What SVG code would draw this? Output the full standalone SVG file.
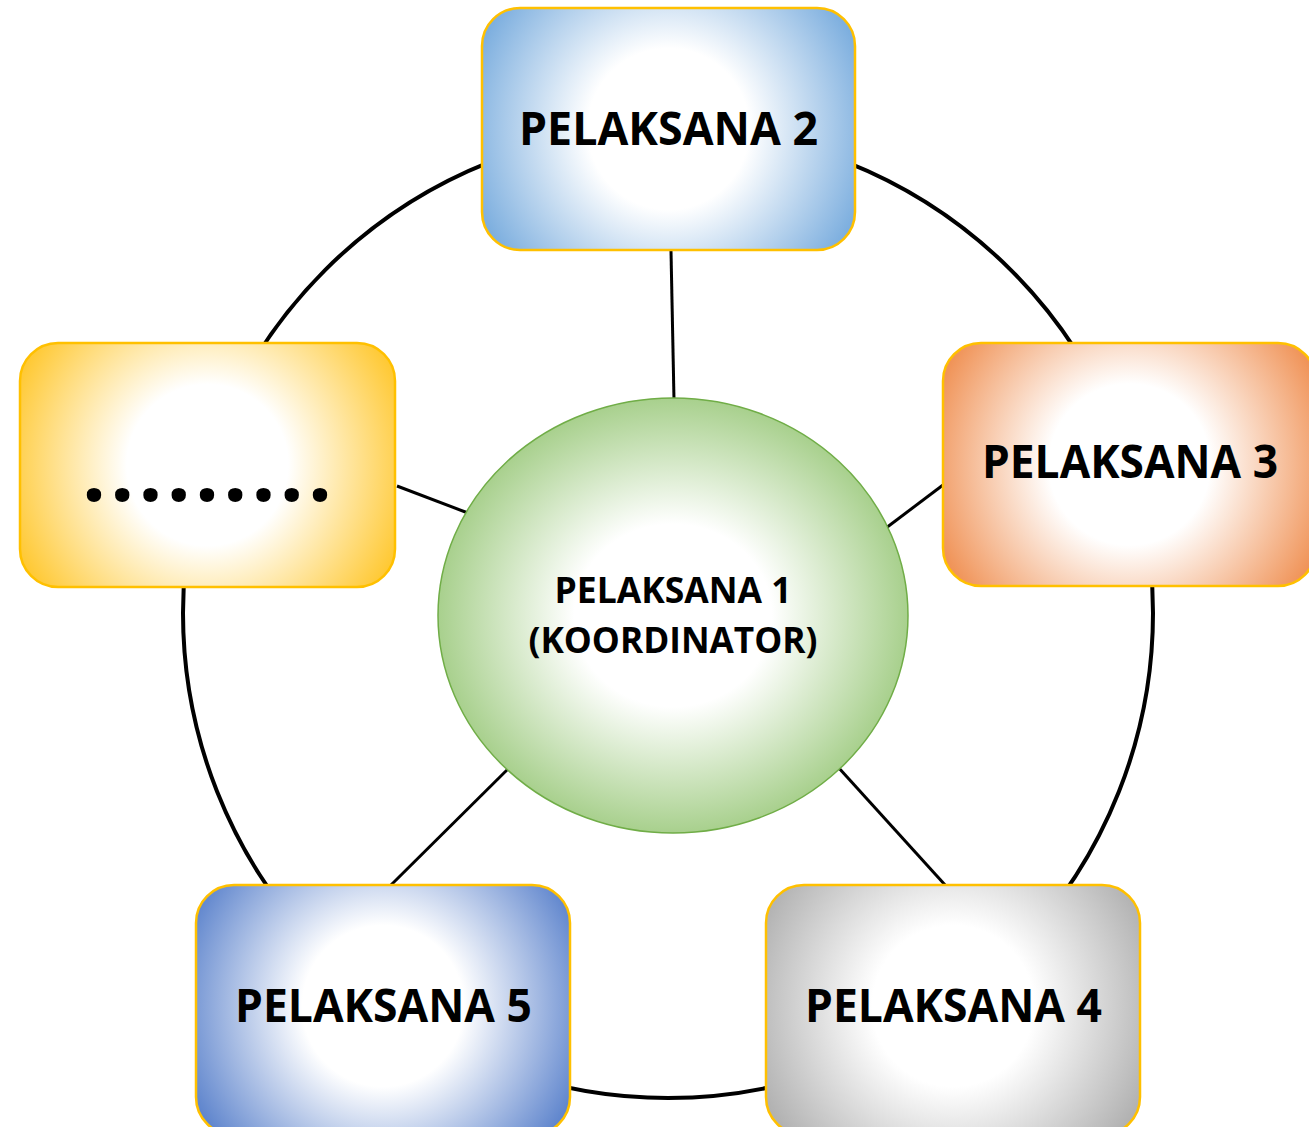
<svg xmlns="http://www.w3.org/2000/svg" width="1309" height="1127" viewBox="0 0 1309 1127">
<style>
.box{stroke:#FFC000;stroke-width:2.5}
.lbl{font-family:"Open Sans","Liberation Sans",sans-serif;font-weight:bold;font-size:46px;fill:#000;text-anchor:middle}
.ctr{font-family:"Open Sans","Liberation Sans",sans-serif;font-weight:bold;font-size:35px;fill:#000;text-anchor:middle}
.ring{fill:none;stroke:#000;stroke-width:4}
.spoke{stroke:#000;stroke-width:3}
</style>
<defs>
<radialGradient id="gBlue" gradientUnits="userSpaceOnUse" cx="668.5" cy="129" r="224"><stop offset="0" stop-color="#fff"/><stop offset="0.36" stop-color="#fff"/><stop offset="1" stop-color="#6AA3DA"/></radialGradient>
<radialGradient id="gOrange" gradientUnits="userSpaceOnUse" cx="1129.5" cy="464.5" r="224"><stop offset="0" stop-color="#fff"/><stop offset="0.36" stop-color="#fff"/><stop offset="1" stop-color="#EE8440"/></radialGradient>
<radialGradient id="gYellow" gradientUnits="userSpaceOnUse" cx="207.5" cy="465" r="224"><stop offset="0" stop-color="#fff"/><stop offset="0.36" stop-color="#fff"/><stop offset="1" stop-color="#FFC21A"/></radialGradient>
<radialGradient id="gDark" gradientUnits="userSpaceOnUse" cx="383" cy="1006" r="224"><stop offset="0" stop-color="#fff"/><stop offset="0.36" stop-color="#fff"/><stop offset="1" stop-color="#4F79C8"/></radialGradient>
<radialGradient id="gGray" gradientUnits="userSpaceOnUse" cx="953" cy="1006" r="224"><stop offset="0" stop-color="#fff"/><stop offset="0.36" stop-color="#fff"/><stop offset="1" stop-color="#A9A9A9"/></radialGradient>
<radialGradient id="gGreen" cx="0.5" cy="0.5" r="0.5"><stop offset="0" stop-color="#fff"/><stop offset="0.42" stop-color="#fff"/><stop offset="1" stop-color="#A8D08D"/></radialGradient>
</defs>
<g id="connectors">
<circle class="ring" cx="668" cy="613" r="485"/>
<line class="spoke" x1="671" y1="251" x2="674" y2="400"/>
<line class="spoke" x1="397" y1="486" x2="468" y2="513"/>
<line class="spoke" x1="943" y1="485" x2="886" y2="528"/>
<line class="spoke" x1="390" y1="886" x2="510" y2="767"/>
<line class="spoke" x1="946" y1="886" x2="838" y2="767"/>
</g>
<g id="node-koordinator">
<ellipse cx="673" cy="615.5" rx="235" ry="217.5" fill="url(#gGreen)" stroke="#70AD47" stroke-width="1.5"/>
<text class="ctr" x="673" y="603" textLength="237" lengthAdjust="spacingAndGlyphs">PELAKSANA 1</text>
<text class="ctr" x="673" y="653" textLength="289" lengthAdjust="spacingAndGlyphs">(KOORDINATOR)</text>
</g>
<g id="node-pelaksana2">
<rect class="box" x="482" y="8" width="373" height="242" rx="38" fill="url(#gBlue)"/>
<text class="lbl" x="668.5" y="145" textLength="299" lengthAdjust="spacingAndGlyphs">PELAKSANA 2</text>
</g>
<g id="node-pelaksana3">
<rect class="box" x="943" y="343" width="373" height="243" rx="38" fill="url(#gOrange)"/>
<text class="lbl" x="1130" y="478" textLength="296" lengthAdjust="spacingAndGlyphs">PELAKSANA 3</text>
</g>
<g id="node-dots">
<rect class="box" x="20" y="343" width="375" height="244" rx="38" fill="url(#gYellow)"/>
<text x="207" y="501" font-family="'Open Sans','Liberation Sans',sans-serif" font-weight="bold" font-size="84" text-anchor="middle" textLength="250" lengthAdjust="spacing">.........</text>
</g>
<g id="node-pelaksana5">
<rect class="box" x="196" y="885" width="374" height="250" rx="38" fill="url(#gDark)"/>
<text class="lbl" x="383.5" y="1022" textLength="297" lengthAdjust="spacingAndGlyphs">PELAKSANA 5</text>
</g>
<g id="node-pelaksana4">
<rect class="box" x="766" y="885" width="374" height="250" rx="38" fill="url(#gGray)"/>
<text class="lbl" x="953.5" y="1022" textLength="297" lengthAdjust="spacingAndGlyphs">PELAKSANA 4</text>
</g>
</svg>
